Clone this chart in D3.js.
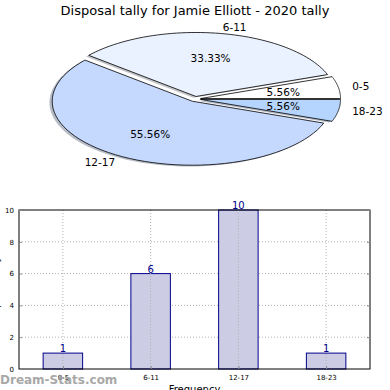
<!DOCTYPE html>
<html><head><meta charset="utf-8">
<script src="https://cdn.jsdelivr.net/npm/d3@7"></script>
<style>body{margin:0;background:#fff}svg{display:block;font-family:"DejaVu Sans",sans-serif}</style>
</head><body>
<svg id="c" width="390" height="390"></svg>
<script>
const title = "Disposal tally for Jamie Elliott - 2020 tally";
const categories = ["0-5", "6-11", "12-17", "18-23"];
const counts = [1, 6, 10, 1];
const sliceColors = ["#ffffff", "#eaf1ff", "#c5d9ff", "#b5d5ff"];
const yTicks = [0, 2, 4, 6, 8, 10];
const xLabel = "Frequency";
const yLabel = "Disposal Tally";
const watermark = "Dream-Stats.com";

const svg = d3.select("#c");

// ---------- Title ----------
svg.append("text").attr("x", 195).attr("y", 15).attr("text-anchor", "middle")
  .attr("font-size", 13).attr("fill", "#000").text(title);

// ---------- Pie (elliptical, matplotlib-like) ----------
const cx = 195, cy = 99, rx = 140, ry = 64, explode = 0.04;
const total = d3.sum(counts);
const pie = d3.pie().sort(null).value(d => d).startAngle(0).endAngle(2 * Math.PI);
const arcs = pie(counts);
function wedgePath(a0, a1, ox, oy) {
  const n = 60;
  const pts = [[cx + ox, cy + oy]];
  for (let i = 0; i <= n; i++) {
    const t = a0 + (a1 - a0) * i / n;
    pts.push([cx + ox + rx * Math.cos(t), cy + oy - ry * Math.sin(t)]);
  }
  return d3.line()(pts) + "Z";
}
const wedges = arcs.map((a, i) => {
  const t0 = a.startAngle, t1 = a.endAngle;
  const tm = (t0 + t1) / 2;
  const ox = explode * rx * Math.cos(tm), oy = -explode * ry * Math.sin(tm);
  return {i, t0, t1, tm, ox, oy, v: a.data};
});
const gPie = svg.append("g");
wedges.forEach(w => {
  gPie.append("path").attr("d", wedgePath(w.t0, w.t1, w.ox - 0.02 * rx, w.oy + 0.02 * ry))
    .attr("fill", d3.color(sliceColors[w.i]).darker(1.6)).attr("opacity", 0.5);
});
wedges.forEach(w => {
  gPie.append("path").attr("d", wedgePath(w.t0, w.t1, w.ox, w.oy))
    .attr("fill", sliceColors[w.i]).attr("stroke", "#000").attr("stroke-width", 0.8)
    .attr("stroke-linejoin", "round");
});
wedges.forEach(w => {
  const c = Math.cos(w.tm), s = Math.sin(w.tm);
  const lx = cx + w.ox + 1.1 * rx * c, ly = cy + w.oy - 1.1 * ry * s;
  gPie.append("text").attr("x", lx).attr("y", ly).attr("dy", "0.35em")
    .attr("text-anchor", c >= 0 ? "start" : "end").attr("font-size", 10.5)
    .text(categories[w.i]);
  const px = cx + w.ox + 0.6 * rx * c, py = cy + w.oy - 0.6 * ry * s;
  gPie.append("text").attr("x", px).attr("y", py).attr("dy", "0.35em")
    .attr("text-anchor", "middle").attr("font-size", 10.5)
    .text((w.v / total * 100).toFixed(2) + "%");
});

// ---------- Bar chart ----------
const L = 19, R = 370, T = 210, B = 369;
const x = d3.scalePoint().domain(categories).range([L, R]).padding(0.5);
const y = d3.scaleLinear().domain([0, 10]).range([B, T]);
const bw = x.step() * 0.45;
const g = svg.append("g");

g.selectAll(".hg").data(yTicks.slice(1, -1)).enter().append("line")
  .attr("x1", L).attr("x2", R).attr("y1", d => y(d)).attr("y2", d => y(d))
  .attr("stroke", "#b0b0b0").attr("stroke-width", 1).attr("stroke-dasharray", "1,2");

g.selectAll(".bar").data(counts).enter().append("rect")
  .attr("x", (d, i) => x(categories[i]) - bw / 2).attr("width", bw)
  .attr("y", d => y(d)).attr("height", d => B - y(d))
  .attr("fill", "#ccccE5").attr("stroke", "#00008b").attr("stroke-width", 1);
g.selectAll(".vg").data(categories).enter().append("line")
  .attr("x1", d => x(d)).attr("x2", d => x(d)).attr("y1", T).attr("y2", B)
  .attr("stroke", "#b0b0b0").attr("stroke-width", 1).attr("stroke-dasharray", "1,2");

g.selectAll(".vl").data(counts).enter().append("text")
  .attr("x", (d, i) => x(categories[i])).attr("y", d => y(d) - 1)
  .attr("text-anchor", "middle").attr("font-size", 10).attr("fill", "#00008b")
  .text(d => d);

g.append("rect").attr("x", L).attr("y", T).attr("width", R - L).attr("height", B - T)
  .attr("fill", "none").attr("stroke", "#000").attr("stroke-width", 1);

const gy = g.append("g").attr("transform", `translate(${L},0)`)
  .call(d3.axisLeft(y).tickValues(yTicks).tickSize(-3).tickPadding(5));
gy.select(".domain").remove();
gy.selectAll("text").attr("font-size", 7).attr("font-family", "DejaVu Sans");
gy.selectAll("line").attr("stroke", "#888");
const gyr = g.append("g").attr("transform", `translate(${R},0)`)
  .call(d3.axisRight(y).tickValues(yTicks).tickSize(-3).tickFormat(""));
gyr.select(".domain").remove();
gyr.selectAll("line").attr("stroke", "#888");

const gx = g.append("g").attr("transform", `translate(0,${B})`)
  .call(d3.axisBottom(x).tickSize(-3).tickPadding(6));
gx.select(".domain").remove();
gx.selectAll("text").attr("font-size", 7).attr("font-family", "DejaVu Sans");
gx.selectAll("line").attr("stroke", "#888");

svg.append("text").attr("x", (L + R) / 2).attr("y", 393).attr("text-anchor", "middle")
  .attr("font-size", 10).text(xLabel);
svg.append("text").attr("transform", "translate(-1,290) rotate(-90)")
  .attr("text-anchor", "middle").attr("font-size", 10).text(yLabel);

svg.append("text").attr("x", 0).attr("y", 384).attr("font-size", 12)
  .attr("fill", "#a0a0a0").attr("font-weight", "bold").attr("opacity", 0.9).text(watermark);
</script>
</body></html>
